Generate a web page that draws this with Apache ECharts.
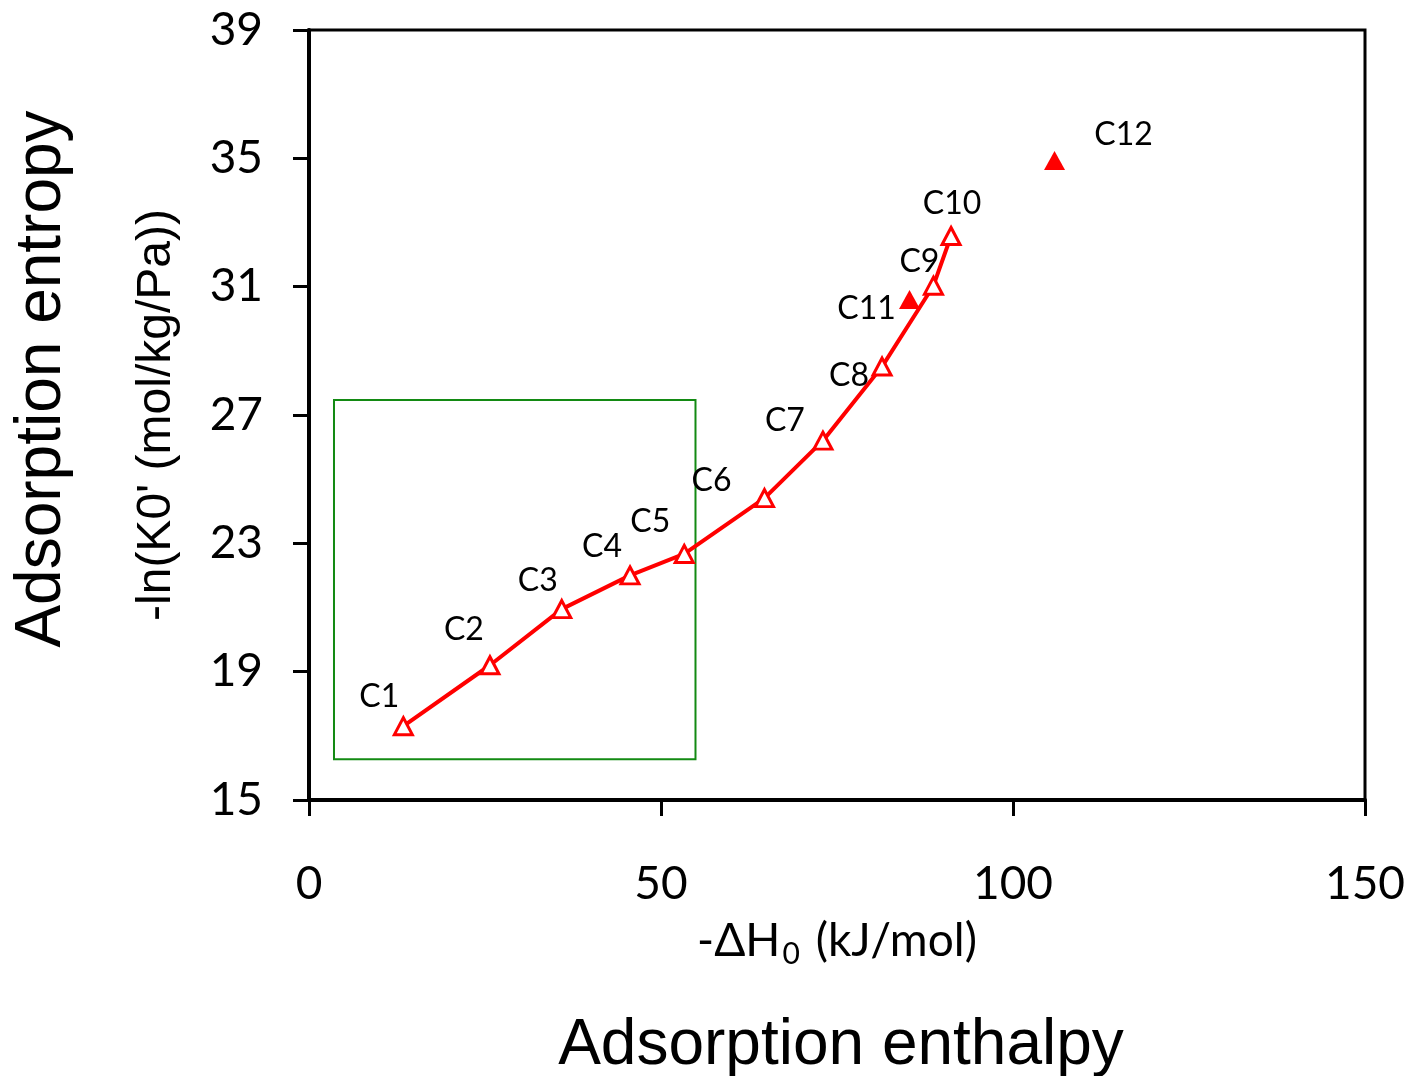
<!DOCTYPE html>
<html>
<head>
<meta charset="utf-8">
<script src="https://cdn.jsdelivr.net/npm/echarts@6/dist/echarts.min.js"></script>
<style>
html,body{margin:0;padding:0;background:#fff;}
#chart{width:1411px;height:1076px;}
</style>
</head>
<body>
<div id="chart"></div>
<script>
// ---- data ----
const seriesNames = ['C1','C2','C3','C4','C5','C6','C7','C8','C9','C10'];
const enthalpy    = [13.4, 25.7, 35.9, 45.6, 53.3, 64.7, 73.0, 81.4, 88.7, 91.2];
const entropy     = [17.3, 19.2, 20.95, 22.0, 22.67, 24.41, 26.2, 28.51, 31.03, 32.58];

const extraNames    = ['C11','C12'];
const extraEnthalpy = [85.3, 105.9];
const extraEntropy  = [30.6, 34.93];

const boxEnthalpy = [3.55, 54.9];
const boxEntropy  = [16.27, 27.47];

const xTicks = [0, 50, 100, 150];
const yTicks = [15, 19, 23, 27, 31, 35, 39];

// ---- label placement (style, kept apart from data) ----
const lineLabelOffsets = [[-24,-30],[-26,-36],[-24,-28],[-28,-29],[-34,-32],[-53,-17],[-38,-20],[-33,9],[-14,-24],[1,-32]];
const extraLabelOffsets = [[-43,9],[69,-26]];

const labelFont = 'Lato';
const mainData = seriesNames.map((n,i)=>({
  name:n, value:[enthalpy[i], entropy[i]],
  label:{offset:lineLabelOffsets[i]}
}));
const extraData = extraNames.map((n,i)=>({
  name:n, value:[extraEnthalpy[i], extraEntropy[i]],
  label:{offset:extraLabelOffsets[i]}
}));

const chart = echarts.init(document.getElementById('chart'), null, {renderer:'canvas'});
const axisCommon = {
  splitLine:{show:false},
  axisLine:{show:true, onZero:false, lineStyle:{color:'#000', width:4}},
  axisTick:{show:true, inside:false, length:16, lineStyle:{color:'#000', width:3}},
};
chart.setOption({
  animation:false,
  backgroundColor:'#fff',
  grid:{left:309, right:46, top:30, bottom:276, show:true, borderColor:'#000', borderWidth:3, backgroundColor:'transparent'},
  xAxis:Object.assign({
    type:'value', min:xTicks[0], max:xTicks[xTicks.length-1], interval:xTicks[1]-xTicks[0],
    axisLabel:{fontFamily:labelFont, fontSize:46, color:'#000', margin:61},
    name:'-ΔH{sub|0} (kJ/mol)', nameLocation:'middle', nameGap:113,
    nameTextStyle:{fontFamily:labelFont, fontSize:46, color:'#000', lineHeight:56,
      rich:{sub:{fontFamily:labelFont, fontSize:30, color:'#000', lineHeight:56, verticalAlign:'bottom', padding:[0,4,0,2]}}}
  }, axisCommon),
  yAxis:Object.assign({
    type:'value', min:yTicks[0], max:yTicks[yTicks.length-1], interval:yTicks[1]-yTicks[0],
    axisLabel:{fontFamily:labelFont, fontSize:46, color:'#000', margin:46},
    name:"-ln(K0' (mol/kg/Pa))", nameLocation:'middle', nameRotate:90, nameGap:128,
    nameTextStyle:{fontFamily:'Liberation Sans', fontSize:48, color:'#000'}
  }, axisCommon),
  graphic:[
    {type:'text', x:42, y:379, rotation:Math.PI/2, z:10,
     style:{text:'Adsorption entropy', fontFamily:'Liberation Sans', fontSize:64, fill:'#000', align:'center', verticalAlign:'middle'}},
    {type:'text', x:841, y:1046, z:10,
     style:{text:'Adsorption enthalpy', fontFamily:'Liberation Sans', fontSize:64, fill:'#000', align:'center', verticalAlign:'middle'}}
  ],
  series:[
    {
      type:'line', data:mainData, z:3,
      lineStyle:{color:'#ff0000', width:4},
      symbol:'triangle', symbolSize:[18,17],
      itemStyle:{color:'#ffffff', borderColor:'#ff0000', borderWidth:3},
      label:{show:true, position:'inside', formatter:'{b}', fontFamily:labelFont, fontSize:32, color:'#000'},
      markArea:{silent:true, itemStyle:{color:'rgba(0,0,0,0)', borderColor:'#138a13', borderWidth:2},
        data:[[{coord:[boxEnthalpy[0], boxEntropy[1]]},{coord:[boxEnthalpy[1], boxEntropy[0]]}]]}
    },
    {
      type:'scatter', data:extraData, z:3,
      symbol:'triangle', symbolSize:[21,19],
      itemStyle:{color:'#ff0000', opacity:1},
      label:{show:true, position:'inside', formatter:'{b}', fontFamily:labelFont, fontSize:32, color:'#000', opacity:1}
    }
  ]
});
</script>
</body>
</html>
